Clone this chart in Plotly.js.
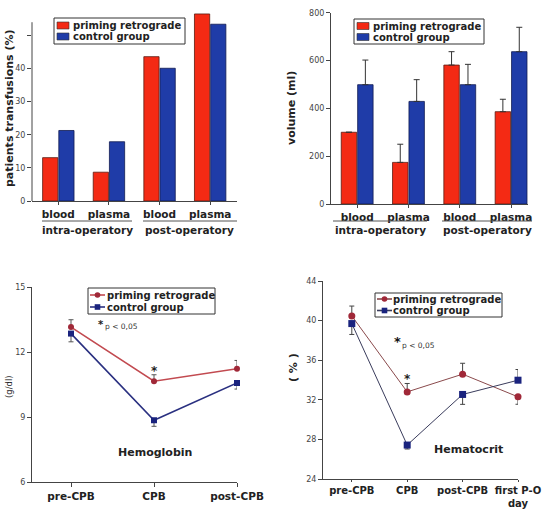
<!DOCTYPE html>
<html><head><meta charset="utf-8">
<script src="https://cdn.plot.ly/plotly-3.0.1.min.js"></script>
<style>html,body{margin:0;padding:0;background:#fff}#c{width:558px;height:509px}</style>
</head><body><div id="c"></div>
<script>
// ---- data ----
const barCats = ['blood', 'plasma', 'blood', 'plasma'];
const groupLabels = ['intra-operatory', 'post-operatory'];
const seriesNames = ['priming retrograde', 'control group'];
const transRetro = [13.1, 8.7, 43.6, 56.5];
const transControl = [21.3, 17.9, 40.1, 53.4];
const transTicks = [0, 10, 20, 30, 40, 50];
const transTickText = ['0', '10', '20', '30', '40', ''];
const volRetro = [300, 174, 581, 386];
const volRetroErr = [0, 76, 56, 52];
const volControl = [499, 429, 499, 637];
const volControlErr = [103, 91, 85, 102];
const hbCats = ['pre-CPB', 'CPB', 'post-CPB'];
const hbRetro = [13.15, 10.65, 11.23];
const hbRetroErrUp = [0.34, 0.3, 0.38];
const hbControl = [12.85, 8.85, 10.57];
const hbControlErrDown = [0.38, 0.28, 0.28];
const hctCats = ['pre-CPB', 'CPB', 'post-CPB', 'first P-O<br>day'];
const hctRetro = [40.47, 32.8, 34.59, 32.3];
const hctRetroErrUp = [1.0, 0.85, 1.1, 0];
const hctRetroErrDown = [0, 0, 0, 0.75];
const hctControl = [39.7, 27.43, 32.54, 33.98];
const hctControlErrUp = [0, 0, 0, 1.08];
const hctControlErrDown = [1.1, 0.4, 1.0, 0];

// ---- styles ----
const W = 558, H = 509;
const px = x => x / W, py = y => 1 - y / H;
const FONT = 'DejaVu Sans';
const RED = '#f42a14', BLUE = '#1f3ca8';
const LRED = '#c24a50', LBLUE = '#2a3080';
const MRED = '#a02838', MBLUE = '#1a237e';
const idx = barCats.map((_, i) => i);

const traces = [
  {type: 'bar', x: idx, y: transRetro, name: seriesNames[0], xaxis: 'x', yaxis: 'y',
   marker: {color: RED, line: {color: '#5a1a10', width: 0.8}}},
  {type: 'bar', x: idx, y: transControl, name: seriesNames[1], xaxis: 'x', yaxis: 'y',
   marker: {color: BLUE, line: {color: '#101a50', width: 0.8}}},
  {type: 'bar', x: idx, y: volRetro, name: seriesNames[0], xaxis: 'x2', yaxis: 'y2',
   marker: {color: RED, line: {color: '#5a1a10', width: 0.8}},
   error_y: {type: 'data', array: volRetroErr, arrayminus: volRetro.map(() => 0), symmetric: false, color: '#333', thickness: 1, width: 3}},
  {type: 'bar', x: idx, y: volControl, name: seriesNames[1], xaxis: 'x2', yaxis: 'y2',
   marker: {color: BLUE, line: {color: '#101a50', width: 0.8}},
   error_y: {type: 'data', array: volControlErr, arrayminus: volControl.map(() => 0), symmetric: false, color: '#333', thickness: 1, width: 3}},
  {type: 'scatter', mode: 'lines+markers', x: hbCats, y: hbRetro, name: seriesNames[0], xaxis: 'x3', yaxis: 'y3', cliponaxis: false,
   line: {color: LRED, width: 1.6}, marker: {symbol: 'circle', size: 6, color: MRED},
   error_y: {type: 'data', array: hbRetroErrUp, arrayminus: hbRetro.map(() => 0), symmetric: false, color: '#555', thickness: 1, width: 2.5}},
  {type: 'scatter', mode: 'lines+markers', x: hbCats, y: hbControl, name: seriesNames[1], xaxis: 'x3', yaxis: 'y3', cliponaxis: false,
   line: {color: LBLUE, width: 1.6}, marker: {symbol: 'square', size: 6, color: MBLUE},
   error_y: {type: 'data', array: hbControl.map(() => 0), arrayminus: hbControlErrDown, symmetric: false, color: '#555', thickness: 1, width: 2.5}},
  {type: 'scatter', mode: 'lines+markers', x: hctCats, y: hctRetro, name: seriesNames[0], xaxis: 'x4', yaxis: 'y4', cliponaxis: false,
   line: {color: '#8a4a4c', width: 1}, marker: {symbol: 'circle', size: 7, color: MRED},
   error_y: {type: 'data', array: hctRetroErrUp, arrayminus: hctRetroErrDown, symmetric: false, color: '#444', thickness: 1, width: 2.5}},
  {type: 'scatter', mode: 'lines+markers', x: hctCats, y: hctControl, name: seriesNames[1], xaxis: 'x4', yaxis: 'y4', cliponaxis: false,
   line: {color: '#3a3c5c', width: 1}, marker: {symbol: 'square', size: 7, color: MBLUE},
   error_y: {type: 'data', array: hctControlErrUp, arrayminus: hctControlErrDown, symmetric: false, color: '#444', thickness: 1, width: 2.5}}
];

const tickFontY = {family: FONT, size: 8, color: '#444'};
const tickFontX = {family: FONT, size: 10.5, color: '#222', weight: 'bold'};
const axBase = {showgrid: false, zeroline: false, showline: true, linecolor: '#444', linewidth: 1,
  ticks: 'outside', ticklen: 4, tickcolor: '#444', tickwidth: 1};

const shapes = [], annotations = [];
function note(o) {
  annotations.push(Object.assign({xref: 'paper', yref: 'paper', showarrow: false, xanchor: 'center', yanchor: 'middle', borderpad: 0}, o));
}

// y axis line for panel 1 (stops below the tallest bar)
shapes.push({type: 'line', xref: 'x domain', yref: 'y', x0: 0, x1: 0, y0: 0, y1: 54, line: {color: '#444', width: 1}});

// group underlines and labels for bar panels
function groups(lines) {
  lines.forEach(g => {
    shapes.push({type: 'line', xref: 'paper', yref: 'paper', x0: px(g.x0), x1: px(g.x1), y0: py(g.y), y1: py(g.y), line: {color: '#555', width: 1}});
    note({x: px((g.x0 + g.x1) / 2 + (g.dx || 0)), y: py(g.y + 9), text: g.text,
      font: {family: FONT, size: 10.5, color: '#222', weight: 'bold'}});
  });
}
groups([
  {x0: 42, x1: 132, y: 221, text: groupLabels[0]},
  {x0: 143, x1: 237, y: 221, text: groupLabels[1], dx: -1},
  {x0: 333, x1: 427, y: 221, text: groupLabels[0]},
  {x0: 442, x1: 532, y: 221, text: groupLabels[1]}
]);

// manual legends
function legend(b, kind, colors, lineColors, symbols) {
  shapes.push({type: 'rect', xref: 'paper', yref: 'paper', x0: px(b.x0), x1: px(b.x1), y0: py(b.y0), y1: py(b.y1),
    line: {color: '#333', width: 1}, fillcolor: '#fff', layer: 'above'});
  seriesNames.forEach((nm, i) => {
    const yc = b.rows[i];
    if (kind === 'bar') {
      shapes.push({type: 'rect', xref: 'paper', yref: 'paper', x0: px(b.x0 + 3), x1: px(b.x0 + 15), y0: py(yc + 3.5), y1: py(yc - 3.5),
        fillcolor: colors[i], line: {color: '#333', width: 0.6}, layer: 'above'});
    } else {
      shapes.push({type: 'line', xref: 'paper', yref: 'paper', x0: px(b.x0 + 2), x1: px(b.x0 + 17), y0: py(yc), y1: py(yc),
        line: {color: lineColors[i], width: 1.6}, layer: 'above'});
      const xm = b.x0 + 9.5, r = 2.8;
      shapes.push({type: symbols[i] === 'circle' ? 'circle' : 'rect', xref: 'paper', yref: 'paper',
        x0: px(xm - r), x1: px(xm + r), y0: py(yc + r), y1: py(yc - r), fillcolor: colors[i], line: {width: 0}, layer: 'above'});
    }
    note({x: px(b.tx), y: py(yc), text: nm, xanchor: 'left',
      font: {family: FONT, size: 10, color: '#222', weight: 'bold'}});
  });
}
legend({x0: 54, x1: 185, y0: 18, y1: 44, rows: [25.5, 36.5], tx: 72}, 'bar', [RED, BLUE]);
legend({x0: 354, x1: 484, y0: 19, y1: 44, rows: [26, 37], tx: 372}, 'bar', [RED, BLUE]);
legend({x0: 88, x1: 215, y0: 288, y1: 314, rows: [295, 307], tx: 106}, 'line', [MRED, MBLUE], [LRED, LBLUE], ['circle', 'square']);
legend({x0: 375, x1: 502, y0: 293, y1: 317, rows: [299, 310.5], tx: 392}, 'line', [MRED, MBLUE], ['#8a4a4c', '#3a3c5c'], ['circle', 'square']);

// significance notes
note({x: px(101), y: py(324), text: '*', font: {family: FONT, size: 10, color: '#222', weight: 'bold'}});
note({x: px(104), y: py(326), text: 'p < 0,05', xanchor: 'left', font: {family: FONT, size: 7.5, color: '#333'}});
note({x: px(397), y: py(341), text: '*', font: {family: FONT, size: 13, color: '#111', weight: 'bold'}});
note({x: px(401), y: py(345), text: 'p < 0,05', xanchor: 'left', font: {family: FONT, size: 7.5, color: '#333'}});
note({xref: 'x3', yref: 'y3', x: hbCats[1], y: hbRetro[1] + hbRetroErrUp[1], text: '*', yanchor: 'bottom', yshift: -4,
  font: {family: FONT, size: 12, color: '#222', weight: 'bold'}});
note({xref: 'x4', yref: 'y4', x: hctCats[1], y: hctRetro[1] + hctRetroErrUp[1], text: '*', yanchor: 'bottom', yshift: -4,
  font: {family: FONT, size: 12, color: '#222', weight: 'bold'}});
note({x: px(155), y: py(452), text: 'Hemoglobin', font: {family: FONT, size: 11, color: '#222', weight: 'bold'}});
note({x: px(468), y: py(449), text: 'Hematocrit', font: {family: FONT, size: 11, color: '#222', weight: 'bold'}});

// y titles as rotated annotations
function ytitle(x, y, text, size, bold) {
  note({x: px(x), y: py(y), text: text, textangle: -90,
    font: {family: FONT, size: size, color: '#222', weight: bold ? 'bold' : 'normal'}});
}
ytitle(10, 108, 'patients transfusions (%)', 11, true);
ytitle(292, 108, 'volume (ml)', 11, true);
ytitle(9, 387, '(g/dl)', 8.5, false);
ytitle(293, 368, '( % )', 11, true);

const layout = {
  width: W, height: H, margin: {l: 0, r: 0, t: 0, b: 0}, paper_bgcolor: '#fff', plot_bgcolor: 'rgba(0,0,0,0)',
  showlegend: false, barmode: 'group', bargap: 0.36, bargroupgap: 0.06,
  xaxis: Object.assign({}, axBase, {domain: [px(32), px(237)], range: [-0.52, 3.53], anchor: 'y', tickvals: idx, ticktext: barCats,
    tickfont: tickFontX, ticklen: 3}),
  yaxis: Object.assign({}, axBase, {domain: [py(201), py(12.3)], range: [0, 57], anchor: 'x', showline: false,
    tickvals: transTicks, ticktext: transTickText, tickfont: tickFontY}),
  xaxis2: Object.assign({}, axBase, {domain: [px(331), px(528)], range: [-0.51, 3.33], anchor: 'y2', tickvals: idx, ticktext: barCats,
    tickfont: tickFontX, ticklen: 3}),
  yaxis2: Object.assign({}, axBase, {domain: [py(204), py(12.7)], range: [0, 800], anchor: 'x2', dtick: 200, tickfont: tickFontY}),
  xaxis3: Object.assign({}, axBase, {domain: [px(32), px(237)], range: [-0.47, 2], anchor: 'y3', type: 'category', tickfont: tickFontX}),
  yaxis3: Object.assign({}, axBase, {domain: [py(482), py(287)], range: [6, 15], anchor: 'x3', dtick: 3, tickfont: tickFontY}),
  xaxis4: Object.assign({}, axBase, {domain: [px(323), px(518)], range: [-0.52, 3], anchor: 'y4', type: 'category',
    tickfont: Object.assign({}, tickFontX, {size: 10}), ticklen: 2}),
  yaxis4: Object.assign({}, axBase, {domain: [py(479), py(281)], range: [24, 44], anchor: 'x4', dtick: 4, tickfont: tickFontY}),
  shapes: shapes, annotations: annotations
};

Plotly.newPlot('c', traces, layout, {displayModeBar: false, staticPlot: true});
</script>
</body></html>
